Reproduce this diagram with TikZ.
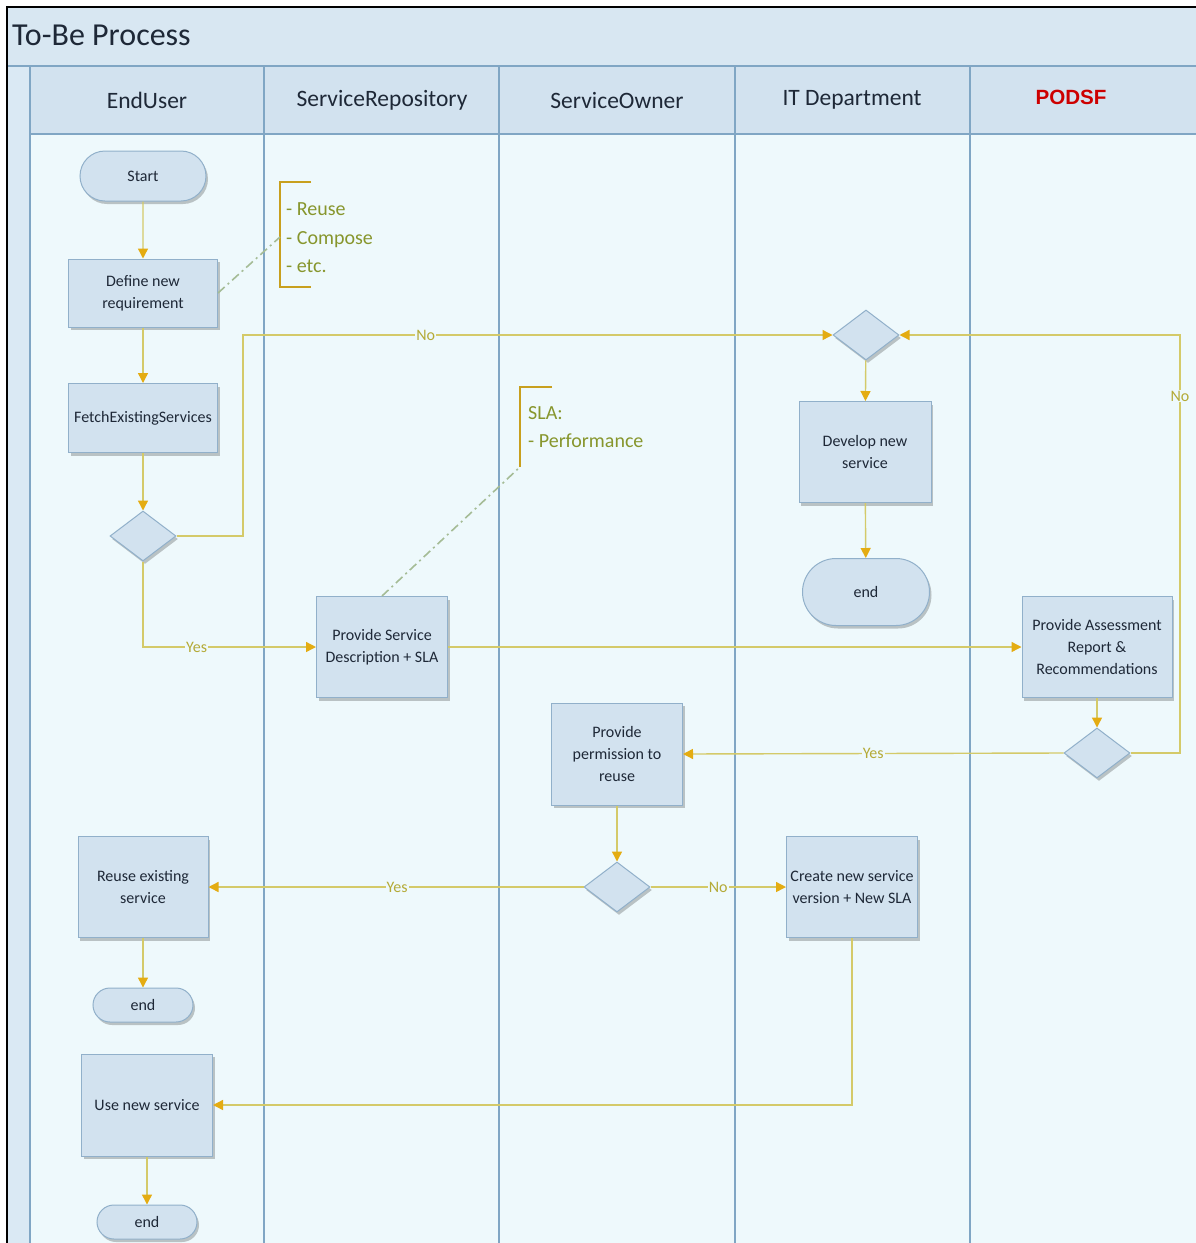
\documentclass[tikz,border=0pt]{standalone}
\usepackage{fontspec}
\setmainfont{Carlito}
\newfontfamily\podsffont{Liberation Sans}
\usetikzlibrary{arrows.meta,shapes.geometric,shapes.misc,shadows}
\definecolor{titlebg}{RGB}{216,231,242}
\definecolor{headbg}{RGB}{210,226,239}
\definecolor{lanebg}{RGB}{238,249,252}
\definecolor{stripbg}{RGB}{218,233,244}
\definecolor{laneline}{RGB}{128,166,196}
\definecolor{nodefill}{RGB}{210,226,239}
\definecolor{nodedraw}{RGB}{145,176,202}
\definecolor{txt}{RGB}{30,40,55}
\definecolor{flow}{RGB}{212,202,105}
\definecolor{tip}{RGB}{228,172,18}
\definecolor{lbl}{RGB}{180,170,55}
\definecolor{note}{RGB}{135,150,45}
\definecolor{bracketc}{RGB}{200,160,30}
\definecolor{leader}{RGB}{165,188,150}
\definecolor{podsf}{RGB}{205,0,0}
\tikzset{
  shade/.style={drop shadow={shadow xshift=2pt,shadow yshift=-3pt,fill=black,opacity=0.22}},
  proc/.style={rectangle, draw=nodedraw, fill=nodefill, text=txt, line width=1pt,
    font=\fontsize{16}{22}\selectfont, align=center, inner sep=2pt, shade},
  term/.style={rounded rectangle, draw=nodedraw, fill=nodefill, text=txt, line width=1pt,
    font=\fontsize{16}{22}\selectfont, inner sep=2pt, shade},
  dec/.style={diamond, draw=nodedraw, fill=nodefill, line width=1pt, inner sep=0pt,
    minimum width=66pt, minimum height=50pt, shade},
  flowline/.style={draw=flow, line width=1.4pt},
  arr/.style={flowline, -{Triangle[length=10pt,width=10pt,color=tip]}},
  lab/.style={fill=lanebg, text=lbl, font=\fontsize{16}{18}\selectfont, inner sep=1pt},
  lanetitle/.style={text=txt, font=\fontsize{23.5}{26}\selectfont},
  notetext/.style={text=note, font=\fontsize{20}{29}\selectfont, align=left, inner sep=0pt},
  bracketline/.style={draw=bracketc, line width=2.2pt},
  leaderline/.style={draw=leader, line width=1.6pt, dash pattern=on 9pt off 4pt on 2pt off 4pt}
}
\begin{document}
\begin{tikzpicture}[x=1pt,y=-1pt]
\useasboundingbox (0,0) rectangle (1196,1243);
\fill[white] (0,0) rectangle (1196,1243);
% backgrounds
\fill[titlebg] (8,8) rectangle (1196,66);
\fill[headbg] (30,66) rectangle (1196,134);
\fill[stripbg] (8,66) rectangle (30,1243);
\fill[lanebg] (30,134) rectangle (1196,1243);
% lane lines
\foreach \xx in {30,264,499,735,970}{\draw[laneline, line width=1.8pt] (\xx,66) -- (\xx,1243);}
\draw[laneline, line width=1.8pt] (8,66) -- (1196,66);
\draw[laneline, line width=1.8pt] (30,134) -- (1196,134);
% outer border
\draw[black, line width=2.2pt] (7,1243) -- (7,7) -- (1196,7);
% title and headers
\node[anchor=base west, text=txt, font=\fontsize{32}{34}\selectfont, inner sep=0pt] (title) at (12,45) {To-Be Process};
\node[lanetitle] (h1) at (147,100) {EndUser};
\node[lanetitle] (h2) at (382,100) {ServiceRepository};
\node[lanetitle] (h3) at (617,100) {ServiceOwner};
\node[lanetitle] (h4) at (852,100) {IT Department};
\node[text=podsf, font=\podsffont\bfseries\fontsize{20.6}{24}\selectfont] (h5) at (1071,97) {PODSF};
% nodes
\node[term, minimum width=130pt, minimum height=50pt] (start) at (143,176) {Start};
\node[proc, minimum width=149pt, minimum height=68pt] (define) at (143,293) {Define new\\requirement};
\node[proc, minimum width=149pt, minimum height=69pt] (fetch) at (143,418) {FetchExistingServices};
\node[dec] (d1) at (143,536) {};
\node[proc, minimum width=131pt, minimum height=101pt] (psd) at (382,647) {Provide Service\\Description + SLA};
\node[dec] (d2) at (866,335) {};
\node[proc, minimum width=132pt, minimum height=101pt] (develop) at (865,452) {Develop new\\service};
\node[term, minimum width=131pt, minimum height=67pt] (endit) at (866,592) {end};
\node[proc, minimum width=150pt, minimum height=101pt] (assess) at (1097,647) {Provide Assessment\\Report \&\\Recommendations};
\node[dec] (d3) at (1097,753) {};
\node[proc, minimum width=131pt, minimum height=102pt] (perm) at (617,754) {Provide\\permission to\\reuse};
\node[dec] (d4) at (617,887) {};
\node[proc, minimum width=131pt, minimum height=101pt] (create) at (852,887) {Create new service\\version + New SLA};
\node[proc, minimum width=130pt, minimum height=101pt] (reuse) at (143,887) {Reuse existing\\service};
\node[term, minimum width=104pt, minimum height=34pt] (end1) at (143,1005) {end};
\node[proc, minimum width=131pt, minimum height=102pt] (use) at (147,1105) {Use new service};
\node[term, minimum width=104pt, minimum height=34pt] (end2) at (147,1222) {end};
% annotations
\draw[bracketline] (311,182) -- (280,182) -- (280,287) -- (311,287);
\coordinate (b1) at (280,237);
\node[notetext, anchor=base west] (n1a) at (286,215) {- Reuse};
\node[notetext, anchor=base west] (n1b) at (286,244) {- Compose};
\node[notetext, anchor=base west] (n1c) at (286,272) {- etc.};
\draw[leaderline] (define.east) -- (b1);
\draw[bracketline] (552,387) -- (520,387) -- (520,467);
\coordinate (b2) at (520,467);
\node[notetext, anchor=base west] (n2a) at (528,419) {SLA:};
\node[notetext, anchor=base west] (n2b) at (528,447) {- Performance};
\draw[leaderline] (psd.north) -- (b2);
% connectors
\draw[arr] (start) -- (define);
\draw[arr] (define) -- (fetch);
\draw[arr] (fetch) -- (d1);
\draw[arr] (d1.east) -- (243,536) -- (243,335) -- node[lab,pos=0.31]{No} (d2.west);
\draw[arr] (d1.south) -- (d1.south |- psd.west) -- node[lab,pos=0.31]{Yes} (psd.west);
\draw[arr] (d2) -- (develop);
\draw[arr] (develop) -- (endit);
\draw[arr] (psd) -- (assess);
\draw[arr] (assess) -- (d3);
\draw[arr] (d3.west) -- node[lab,pos=0.5]{Yes} (perm.east);
\draw[arr] (d3.east) -- (1180,753) -- node[lab,pos=0.854]{No} (1180,335) -- (d2.east);
\draw[arr] (perm) -- (d4);
\draw[arr] (d4.west) -- node[lab,pos=0.497]{Yes} (reuse.east);
\draw[arr] (d4.east) -- node[lab,pos=0.5]{No} (create.west);
\draw[arr] (reuse) -- (end1);
\draw[arr] (create.south) -- (create.south |- use.east) -- (use.east);
\draw[arr] (use) -- (end2);
\end{tikzpicture}
\end{document}
